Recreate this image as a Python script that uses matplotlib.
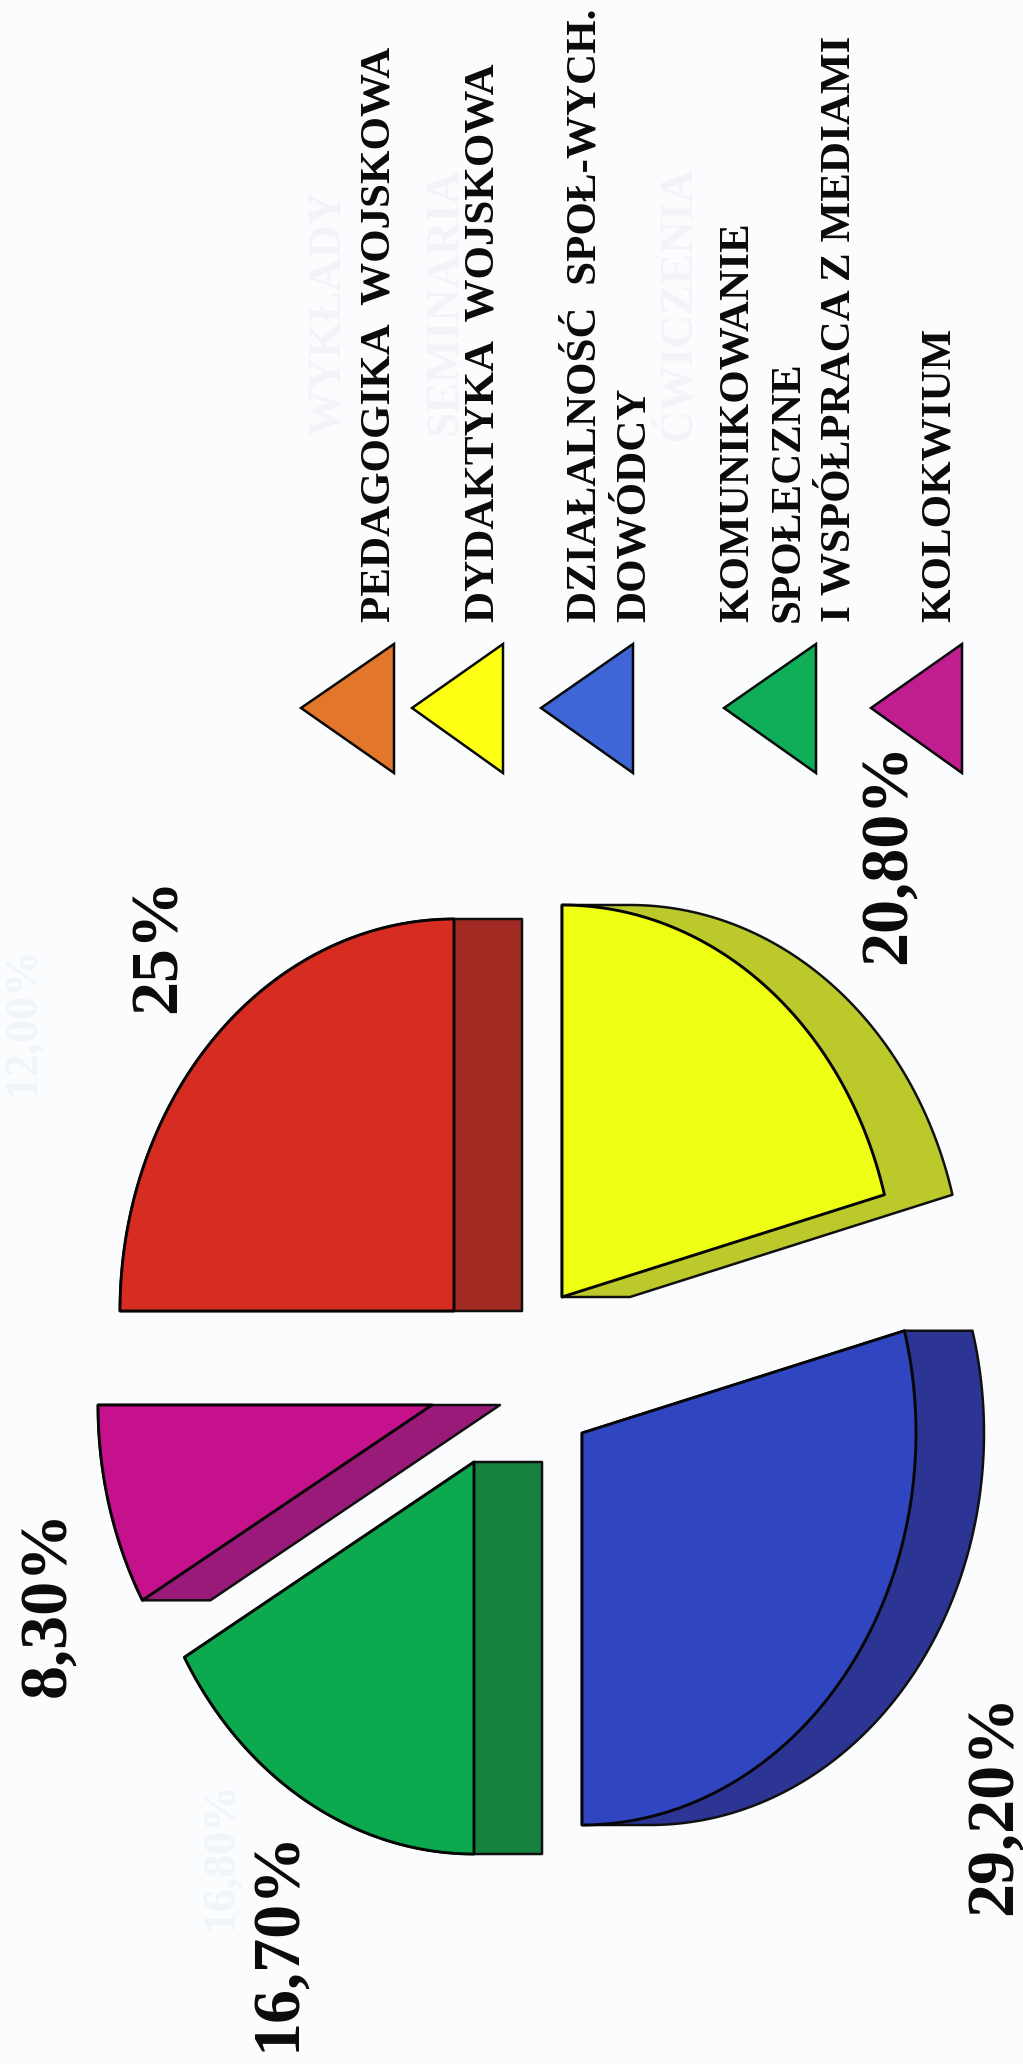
import numpy as np
import matplotlib
matplotlib.use("Agg")
import matplotlib.pyplot as plt
from matplotlib.patches import Polygon

# ---- data
values = [25.0, 20.8, 29.2, 16.7, 8.3]
value_labels = ["25%", "20,80%", "29,20%", "16,70%", "8,30%"]
legend_labels = ["PEDAGOGIKA  WOJSKOWA", "DYDAKTYKA  WOJSKOWA",
                 "DZIAŁALNOŚĆ  SPOŁ-WYCH.\nDOWÓDCY",
                 "KOMUNIKOWANIE\nSPOŁECZNE\nI WSPÓŁPRACA Z MEDIAMI", "KOLOKWIUM"]

# ---- style / layout
top_colors = ["#D62C22", "#EFFF14", "#2F46C0", "#0DA94F", "#C5118B"]
side_colors = ["#A02A22", "#BCC92B", "#2C3594", "#15833F", "#9A1A7A"]
legend_colors = ["#E2762A", "#FFFF14", "#3F66D6", "#10AE58", "#C01E90"]
apex_x = [454, 562, 582, 474, 432]
apex_y = [1311, 1297, 1433, 1462, 1405]
label_x = [176, 906, 1012, 295, 65]
label_y = [1013, 964, 1915, 2051, 1697]
legend_apex_x = [301, 412, 541, 724, 871]
legend_base_x = [394, 503, 633, 816, 962]
legend_text_x = [[390], [493], [596, 645], [748, 799, 850], [950]]
RX, RY, DEPTH = 334, 392, 68
PAPER = "#FAFCFD"

plt.rcParams["font.family"] = ["Liberation Serif", "DejaVu Serif"]
fig = plt.figure(figsize=(10.23, 20.64), dpi=100, facecolor=PAPER)
ax = fig.add_axes([0, 0, 1, 1])
ax.set_xlim(0, 1023)
ax.set_ylim(2064, 0)
ax.axis("off")

# faint show-through from the reverse of the scanned page
for txt, x, y in [("WYKŁADY", 340, 435), ("SEMINARIA", 457, 435), ("ĆWICZENIA", 691, 441)]:
    ax.text(x, y, txt, rotation=90, rotation_mode="anchor", ha="left", va="baseline",
            fontsize=33, fontweight="bold", color="#F2F4F7", zorder=1)
for txt, x, y in [("12,00%", 34, 1095), ("16,80%", 232, 1930)]:
    ax.text(x, y, txt, rotation=90, rotation_mode="anchor", ha="left", va="baseline",
            fontsize=33, fontweight="bold", color="#F1F4F8", zorder=1)


def hull(pts):
    pts = sorted(set(map(tuple, np.round(pts, 3))))
    def half(seq):
        out = []
        for p in seq:
            while len(out) > 1 and ((out[-1][0]-out[-2][0])*(p[1]-out[-2][1])
                                    - (out[-1][1]-out[-2][1])*(p[0]-out[-2][0])) <= 0:
                out.pop()
            out.append(p)
        return out[:-1]
    return np.array(half(pts) + half(pts[::-1]))


angle = -90.0
for v, cx, cy, top, side in zip(values, apex_x, apex_y, top_colors, side_colors):
    sweep = v / sum(values) * 360.0
    th = np.radians(np.linspace(angle, angle + sweep, 90))
    angle += sweep
    face = np.column_stack([np.r_[cx, cx + RX * np.sin(th)],
                            np.r_[cy, cy - RY * np.cos(th)]])
    swept = np.vstack([face, face + [DEPTH, 0]])
    ax.add_patch(Polygon(hull(swept), closed=True, fc=side, ec="#101010",
                         lw=1.8, joinstyle="round", zorder=3))
    ax.add_patch(Polygon(face, closed=True, fc=top, ec="#050505",
                         lw=2.1, joinstyle="round", zorder=4))

for txt, x, y in zip(value_labels, label_x, label_y):
    ax.text(x, y, txt, rotation=90, rotation_mode="anchor", ha="left", va="baseline",
            fontsize=49, fontweight="bold", color="#0A0A0A", zorder=5)

for ax0, bx, col, xs, txt in zip(legend_apex_x, legend_base_x, legend_colors,
                                 legend_text_x, legend_labels):
    ax.add_patch(Polygon([(ax0, 708), (bx, 644), (bx, 773)], closed=True, fc=col,
                         ec="#0A0A0A", lw=1.8, zorder=4))
    for x, line in zip(xs, txt.split("\n")):
        ax.text(x, 622, line, rotation=90, rotation_mode="anchor", ha="left",
                va="baseline", fontsize=31, fontweight="bold",
                color="#0A0A0A", zorder=5)

fig.savefig("out.png", dpi=100, facecolor=PAPER)
